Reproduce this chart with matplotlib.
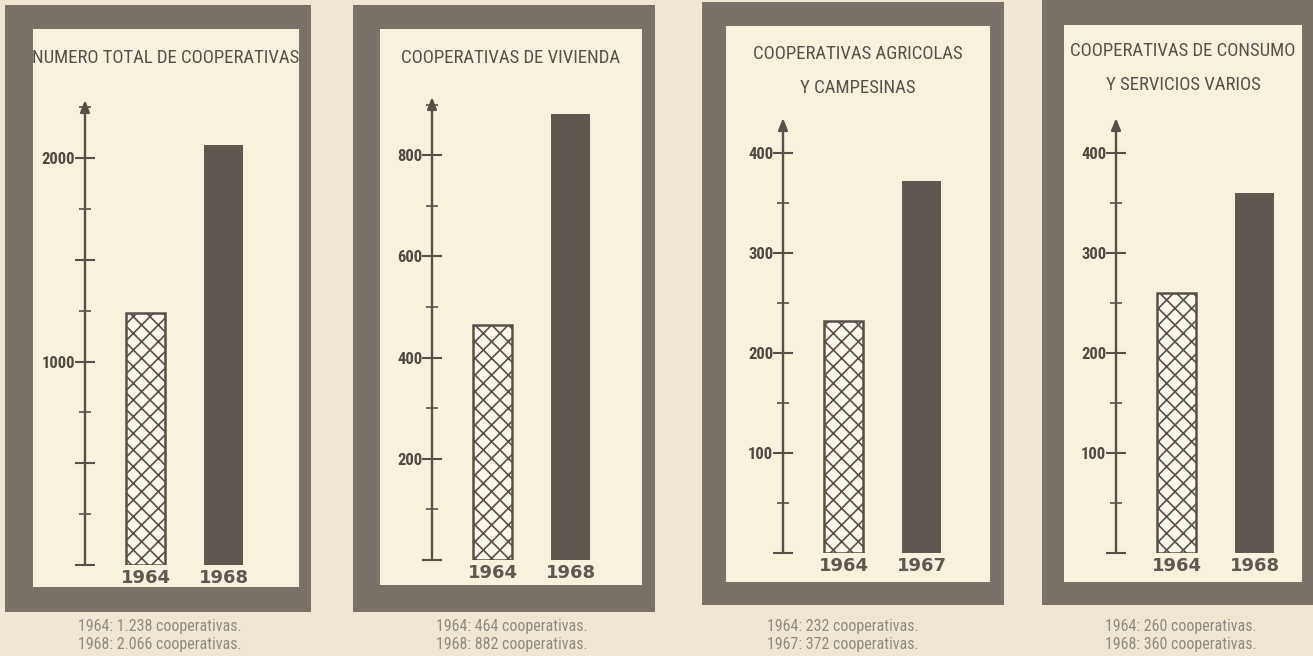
import matplotlib
matplotlib.use("Agg")
import matplotlib.pyplot as plt
from matplotlib.patches import Rectangle
from matplotlib.ticker import MultipleLocator, FuncFormatter

# datos de los cuatro cuadros
titulos = ["NUMERO TOTAL DE COOPERATIVAS",
           "COOPERATIVAS DE VIVIENDA",
           "COOPERATIVAS AGRICOLAS\nY CAMPESINAS",
           "COOPERATIVAS DE CONSUMO\nY SERVICIOS VARIOS"]
anio_inicial = ["1964", "1964", "1964", "1964"]
anio_final = ["1968", "1968", "1967", "1968"]
valores_inicial = [1238, 464, 232, 260]
valores_final = [2066, 882, 372, 360]
paso_mayor = [500, 200, 100, 100]
paso_menor = [250, 100, 50, 50]
paso_etiqueta = [1000, 200, 100, 100]

W, H = 1313, 656
fondo = "#efe7d3"
papel = "#f8f1de"
marco = "#7a7168"
tinta = "#57504a"
gris = "#8f8a84"

plt.rcParams["font.family"] = ["Roboto Condensed", "Roboto", "DejaVu Sans"]
plt.rcParams["hatch.linewidth"] = 1.2
plt.rcParams["hatch.color"] = "#645d56"

fig = plt.figure(figsize=(W / 100, H / 100), dpi=100, facecolor=fondo)


def fx(x):
    return x / W


def fy(y):
    return 1 - y / H


# geometria de cada cuadro en pixeles: marco exterior, interior, eje
marcos = [(5, 5, 311, 612), (353, 5, 655, 612), (702, 2, 1004, 605), (1042, 0, 1325, 605)]
interiores = [(33, 29, 299, 587), (380, 29, 642, 585), (726, 26, 990, 582), (1064, 25, 1302, 582)]
eje_x = [85, 432, 783, 1116]
cero_y = [565, 560, 553, 553]
px_por_unidad = [0.2035, 0.506, 1.0, 1.0]
tope_y = [100, 97, 118, 118]
titulo_y = [58, 58, 71, 68]
leyenda_x = [78, 436, 767, 1105]

unidad = 78.0  # pixeles por unidad en x
for i in range(4):
    x0, y0, x1, y1 = marcos[i]
    fig.add_artist(Rectangle((fx(x0), fy(y1)), fx(x1 - x0), (y1 - y0) / H,
                             transform=fig.transFigure, facecolor=marco,
                             edgecolor="none", zorder=-10))
    x0, y0, x1, y1 = interiores[i]
    fig.add_artist(Rectangle((fx(x0), fy(y1)), fx(x1 - x0), (y1 - y0) / H,
                             transform=fig.transFigure, facecolor=papel,
                             edgecolor="none", zorder=-9))

    fig.text(fx((x0 + x1) / 2), fy(titulo_y[i]), titulos[i], ha="center", va="center",
             fontsize=13.5, color="#57514b", linespacing=2.1)

    # ejes
    izq = eje_x[i] - 0.55 * unidad
    ancho = 2.85 * unidad
    alto = cero_y[i] - tope_y[i]
    ax = fig.add_axes([fx(izq), fy(cero_y[i]), fx(ancho), alto / H])
    ax.set_facecolor("none")
    ax.set_xlim(-0.55, 2.3)
    ax.set_ylim(0, alto / px_por_unidad[i])
    for s in ax.spines.values():
        s.set_visible(False)
    ax.spines["left"].set_position(("data", 0))

    ax.bar(0.78, valores_inicial[i], width=0.5, facecolor="#fbf7ec", edgecolor=tinta,
           hatch="xx", linewidth=1.8, zorder=3)
    ax.bar(1.78, valores_final[i], width=0.5, facecolor="#5f5750", edgecolor="none", zorder=3)

    ax.set_xticks([0.78, 1.78], [anio_inicial[i], anio_final[i]])
    ax.tick_params(axis="x", length=0, pad=3, labelsize=13, labelcolor="#5e5852")
    for lb in ax.get_xticklabels():
        lb.set_fontweight("bold")
        lb.set_family(["DejaVu Sans"])

    ax.annotate("", xy=(0, 1.0), xytext=(0, 0), xycoords=ax.get_xaxis_transform(),
                arrowprops=dict(arrowstyle="-|>,head_length=0.7,head_width=0.28",
                                color=tinta, lw=1.7, shrinkA=0, shrinkB=0))
    et = paso_etiqueta[i]
    ax.yaxis.set_major_locator(MultipleLocator(paso_mayor[i]))
    ax.yaxis.set_minor_locator(MultipleLocator(paso_menor[i]))
    ax.yaxis.set_major_formatter(FuncFormatter(
        lambda v, p, et=et: f"{int(round(v))}" if v > 0 and round(v) % et == 0 else ""))
    ax.tick_params(axis="y", which="major", direction="inout", length=14, width=1.5,
                   color=tinta, labelsize=12, labelcolor="#4f4943", pad=0)
    ax.tick_params(axis="y", which="minor", direction="inout", length=8, width=1.2, color=tinta)
    for lb in ax.get_yticklabels():
        lb.set_fontweight("bold")

    # leyenda inferior
    def fmt(v):
        return f"{v:,}".replace(",", ".")
    texto = (f"{anio_inicial[i]}: {fmt(valores_inicial[i])} cooperativas.\n"
             f"{anio_final[i]}: {fmt(valores_final[i])} cooperativas.")
    fig.text(fx(leyenda_x[i]), fy(635), texto, ha="left", va="center", fontsize=11.5,
             color=gris, linespacing=1.25)

fig.savefig("out.png", dpi=100, facecolor=fondo)
